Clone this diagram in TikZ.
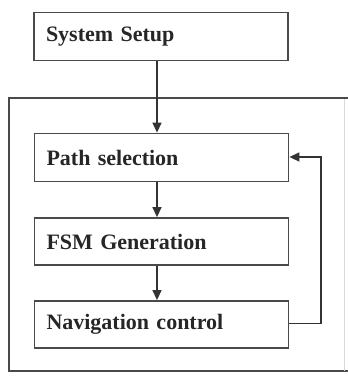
\documentclass[tikz,border=0pt]{standalone}
\usepackage{fontspec}
\setmainfont{Liberation Serif}
\usetikzlibrary{arrows.meta}
\definecolor{edge}{HTML}{4A4A4A}
\begin{document}
\begin{tikzpicture}[x=1pt,y=-1pt,
  stepbox/.style={draw=edge,line width=1.8pt,rectangle,minimum width=254pt,text width=230pt,
    inner xsep=12pt,inner ysep=0pt,align=left,font=\fontsize{22}{24}\selectfont\bfseries,text=black!85},
  conn/.style={draw=black!80,line width=1.4pt,-{Triangle[length=10pt,width=9pt]}}]
\useasboundingbox (0,0) rectangle (348,376);
% outer frame
\draw[edge,line width=1.8pt] (345,98) -- (9,98) -- (9,371) -- (348,371);
\draw[black!15,line width=1pt] (344,98) -- (344,371);
\draw[edge,line width=1.8pt] (344,98) -- (348,98);
\node[stepbox,minimum height=48pt] (setup) at (161,36.5) {System Setup};
\node[stepbox,minimum height=48pt] (path) at (161.5,157.5) {Path selection};
\node[stepbox,minimum height=47pt] (fsm) at (161.5,241.5) {FSM Generation};
\node[stepbox,minimum height=47pt] (nav) at (161.5,324.5) {Navigation control};
\coordinate (c1) at (321,323.5);
\coordinate (c2) at (321,157);
\draw[conn] (setup.south -| 157,0) -- (path.north -| 157,0);
\draw[conn] (path.south -| 157,0) -- (fsm.north -| 157,0);
\draw[conn] (fsm.south -| 157,0) -- (nav.north -| 157,0);
\draw[conn] (nav.east |- c1) -- (c1) -- (c2) -- (path.east |- c2);
\end{tikzpicture}
\end{document}
